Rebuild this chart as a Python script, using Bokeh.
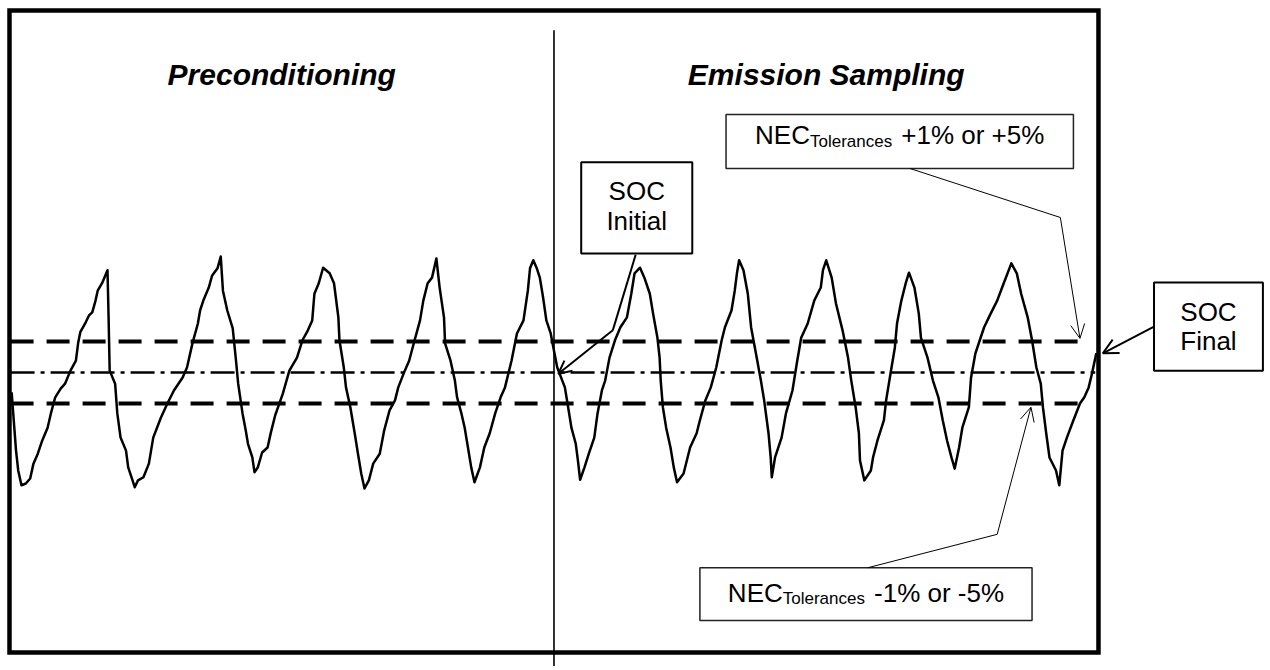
from bokeh.plotting import figure
from bokeh.models import Range1d, Arrow, OpenHead
from bokeh.core.properties import value
from bokeh.embed import file_html
from bokeh.resources import INLINE

# ---------------- data (time in % of test, SOC in %) ----------------
time_pre = [0.2, 0.3, 0.6, 0.8, 1.1, 1.5, 1.9, 2.2, 2.6, 3.0, 3.5, 3.8, 4.2, 4.7, 5.1, 5.6, 6.1, 6.3, 6.5, 7.0, 7.3, 7.6, 7.9, 8.1, 8.5, 9.0,
            9.1, 9.2, 9.7, 9.9, 10.2, 10.7, 10.9, 11.3, 11.5,
            11.8, 12.3, 12.8, 13.2, 13.9, 14.5, 15.1, 15.9, 16.3, 16.8, 17.3, 17.5, 17.8, 18.3, 18.6, 19.1, 19.4,
            19.6, 20.0, 20.5, 20.8, 21.0, 21.4, 21.7, 21.9, 22.3, 22.5,
            22.8, 23.2, 23.7, 24.0, 24.4, 25.1, 25.7, 26.4, 26.9, 27.4, 27.8, 28.0, 28.4, 28.8,
            29.4, 29.8, 30.2, 30.3, 30.7, 30.9, 31.3, 31.7, 32.0, 32.3, 32.6,
            33.0, 33.4, 34.0, 34.4, 34.9, 35.4, 35.7, 36.3, 36.7, 37.2, 37.7, 38.0, 38.4, 38.8, 39.2,
            39.5, 39.9, 40.0, 40.5, 40.9, 41.1, 41.5, 41.8, 42.1, 42.4, 42.7,
            43.2, 43.6, 44.1, 44.6, 45.1, 45.5, 46.1, 46.6, 47.2, 47.6, 47.8, 48.1,
            48.4, 48.7, 49.0, 49.3, 49.7, 50.0]
soc_pre = [46.8, 44.4, 37.4, 34.2, 31.8, 32.1, 32.9, 35.3, 36.9, 39.0, 41.1, 43.4, 46.0, 47.4, 48.2, 50.3, 51.9, 54.7, 56.5, 58.1, 59.2, 59.7, 61.6, 63.2, 64.4, 66.5,
           58.9, 50.3, 48.2, 43.4, 39.5, 37.4, 34.7, 32.6, 31.5,
           32.6, 33.1, 35.3, 39.5, 42.7, 45.0, 47.1, 49.2, 50.8, 54.7, 57.9, 60.0, 61.6, 63.7, 65.6, 66.8, 68.7,
           63.2, 60.0, 57.1, 51.9, 48.2, 43.4, 40.6, 38.5, 36.3, 33.9,
           34.7, 37.1, 37.9, 40.3, 43.1, 46.6, 50.3, 52.4, 55.2, 56.8, 58.4, 62.7, 64.4, 66.9,
           66.0, 64.4, 58.9, 55.2, 50.8, 47.6, 44.4, 40.2, 36.9, 33.7, 31.3,
           32.6, 35.3, 36.9, 40.6, 43.9, 45.5, 47.6, 50.3, 51.9, 55.2, 58.4, 61.6, 64.4, 65.3, 68.4,
           63.7, 58.9, 54.7, 51.9, 48.7, 46.0, 43.4, 41.1, 37.9, 34.7, 32.3,
           34.7, 37.9, 40.2, 43.4, 46.0, 47.6, 51.9, 56.3, 58.4, 63.2, 66.8, 68.1,
           66.9, 65.3, 62.1, 58.4, 56.3, 53.5]

time_em = [50.3, 51.0, 51.3, 51.6, 52.0, 52.2, 52.4,
           52.8, 53.2, 53.7, 54.0, 54.4, 54.7, 55.1, 55.6, 56.1, 56.7, 57.1, 57.4, 57.9,
           58.3, 58.8, 59.1, 59.5, 59.7, 59.8, 60.0, 60.3, 60.7, 61.0, 61.3,
           61.9, 62.2, 62.5, 63.1, 63.4, 63.9, 64.4, 64.9, 65.4, 65.7, 66.3, 66.6, 66.8, 67.0,
           67.4, 67.8, 68.1, 68.5, 69.0, 69.3, 69.7, 69.9, 70.0,
           70.3, 70.9, 71.3, 71.9, 72.3, 72.7, 73.3, 73.9, 74.5, 74.7, 75.0,
           75.5, 75.9, 76.5, 77.0, 77.3, 77.7, 78.0, 78.1, 78.5,
           79.1, 79.3, 79.7, 80.3, 80.5, 80.9, 81.3, 81.5, 81.9, 82.3, 82.6,
           83.1, 83.5, 83.7, 84.3, 84.8, 85.3, 85.7, 86.1, 86.5, 86.8,
           87.2, 87.5, 88.1, 88.3, 88.7, 89.1, 89.5, 90.1, 90.7, 91.3, 92.0,
           92.5, 92.9, 93.5, 93.9, 94.3, 94.7, 94.9, 95.2, 95.5, 96.1, 96.4,
           96.7, 97.1, 97.7, 98.3, 98.7, 99.1, 99.4, 99.8]
soc_em = [50.8, 47.6, 44.4, 41.1, 38.5, 35.8, 32.7,
          34.7, 36.9, 39.5, 43.4, 47.1, 48.7, 52.4, 55.2, 57.3, 58.9, 62.7, 66.0, 66.9,
          65.3, 62.7, 59.5, 55.6, 52.4, 48.7, 44.4, 41.1, 37.9, 34.7, 32.3,
          33.7, 35.8, 37.9, 40.2, 42.3, 45.5, 47.6, 50.8, 55.2, 57.3, 60.0, 63.2, 66.0, 68.1,
          66.5, 62.7, 57.3, 53.5, 48.7, 45.5, 40.2, 36.3, 33.1,
          36.3, 39.5, 43.4, 47.1, 51.5, 55.6, 57.9, 61.6, 63.7, 66.5, 68.1,
          65.3, 61.1, 56.8, 52.4, 48.7, 44.4, 40.2, 35.8, 32.6,
          34.2, 36.3, 39.0, 42.3, 45.5, 49.8, 54.0, 57.9, 61.6, 64.4, 66.1,
          63.7, 59.5, 55.6, 52.4, 48.7, 46.0, 42.3, 39.0, 36.3, 34.5,
          37.9, 41.1, 44.4, 49.2, 53.1, 55.2, 57.3, 59.5, 61.6, 64.4, 67.6,
          66.0, 62.7, 58.9, 55.2, 50.8, 48.2, 44.4, 40.2, 36.3, 34.2, 31.8,
          37.4, 39.5, 42.3, 45.0, 46.0, 47.6, 49.8, 53.1]

phase_names = ["Preconditioning", "Emission Sampling"]
phase_mid = [25, 75]
phase_split = 50
test_start, test_end = 0, 100
soc_target = 50
soc_tol = 5

soc_box_text = [["SOC", "Initial"], ["SOC", "Final"]]
nec_main = "NEC"
nec_sub = "Tolerances"
nec_tail = ["+1% or +5%", "-1% or -5%"]

# ---------------- layout / styling ----------------
FONT = "Liberation Sans"
W, H = 1266, 666
X0, X1 = -0.826, 115.43
Y0, Y1 = 2.58, 110.0
FRAME_BOTTOM, FRAME_TOP = 4.84, 108.39
DIV_TOP = 105.2
LINE_END_DASH, LINE_END_CENTER = 99.1, 99.7
FS_BOX, FS_SUB, FS_TITLE = 26, 17, 30

ARIAL = {"N": 722, "E": 667, "C": 722, "T": 611, "o": 556, "l": 222, "e": 556, "r": 333,
         "a": 556, "n": 556, "c": 500, "s": 500, " ": 278, "+": 584, "-": 333, "1": 556,
         "5": 556, "%": 889}


def tw(s, size):
    return sum(ARIAL[ch] for ch in s) / 1000.0 * size


p = figure(width=W, height=H, x_range=Range1d(X0, X1), y_range=Range1d(Y0, Y1),
           output_backend="svg", toolbar_location=None, min_border=0,
           x_axis_location=None, y_axis_location=None)
p.xgrid.visible = False
p.ygrid.visible = False
p.outline_line_color = None
p.background_fill_color = "white"
p.border_fill_color = "white"

# outer frame
p.quad(left=[test_start], right=[test_end], bottom=[FRAME_BOTTOM], top=[FRAME_TOP],
       fill_color=None, line_color="black", line_width=4.5, line_join="miter")
# phase divider
p.segment(x0=[phase_split], y0=[DIV_TOP], x1=[phase_split], y1=[Y0],
          line_color="black", line_width=1.6)

# tolerance band and target
p.segment(x0=[test_start + 0.1] * 2, y0=[soc_target + soc_tol, soc_target - soc_tol],
          x1=[LINE_END_DASH] * 2, y1=[soc_target + soc_tol, soc_target - soc_tol],
          line_color="black", line_width=4, line_dash="23 13")
p.segment(x0=[test_start + 0.1], y0=[soc_target], x1=[LINE_END_CENTER], y1=[soc_target],
          line_color="black", line_width=2.6, line_dash="24 6 4 6")

# SOC trace
p.line(time_pre + time_em, soc_pre + soc_em, line_color="black", line_width=2.5,
       line_join="round")

# titles
p.text(x=phase_mid, y=[98.1, 98.1], text=phase_names, text_font=value(FONT),
       text_font_style="bold italic", text_font_size=f"{FS_TITLE}px",
       text_align="center", text_baseline="alphabetic", text_color="black")

# SOC boxes
soc_box_l = [52.5, 105.1]
soc_box_r = [62.7, 115.1]
soc_box_b = [69.2, 50.3]
soc_box_t = [83.9, 64.5]
p.quad(left=soc_box_l, right=soc_box_r, bottom=soc_box_b, top=soc_box_t,
       fill_color="white", line_color="black", line_width=2)
soc_line_y = [[79.3, 74.4], [59.7, 55.0]]
for i in range(2):
    cx = (soc_box_l[i] + soc_box_r[i]) / 2
    p.text(x=[cx, cx], y=soc_line_y[i], text=soc_box_text[i], text_font=value(FONT),
           text_font_size=f"{FS_BOX}px", text_align="center",
           text_baseline="alphabetic", text_color="black")

# NEC boxes
nec_box_l = [65.8, 63.4]
nec_box_r = [97.7, 93.9]
nec_box_b = [82.9, 10.0]
nec_box_t = [91.6, 18.5]
nec_base_y = [88.25, 14.5]
nec_sub_y = [87.25, 13.6]
p.quad(left=nec_box_l, right=nec_box_r, bottom=nec_box_b, top=nec_box_t,
       fill_color="white", line_color="#222222", line_width=1.5)
for i in range(2):
    cx = (nec_box_l[i] + nec_box_r[i]) / 2
    w_main = tw(nec_main, FS_BOX)
    w_sub = tw(nec_sub, FS_SUB)
    w_gap = tw(" ", FS_BOX)
    w_tail = tw(nec_tail[i], FS_BOX)
    start = -(w_main + w_sub + w_gap + w_tail) / 2
    p.text(x=[cx], y=[nec_base_y[i]], text=[nec_main], x_offset=start,
           text_font=value(FONT), text_font_size=f"{FS_BOX}px", text_align="left",
           text_baseline="alphabetic", text_color="black")
    p.text(x=[cx], y=[nec_sub_y[i]], text=[nec_sub], x_offset=start + w_main,
           text_font=value(FONT), text_font_size=f"{FS_SUB}px", text_align="left",
           text_baseline="alphabetic", text_color="black")
    p.text(x=[cx], y=[nec_base_y[i]], text=[nec_tail[i]],
           x_offset=start + w_main + w_sub + w_gap,
           text_font=value(FONT), text_font_size=f"{FS_BOX}px", text_align="left",
           text_baseline="alphabetic", text_color="black")

# leaders / arrows
# SOC initial (bent)
p.line([57.5, 55.4], [69.0, 56.8], line_color="black", line_width=2)
p.add_layout(Arrow(end=OpenHead(size=13, line_width=2, line_color="black"),
                   x_start=55.4, y_start=56.8, x_end=50.4, y_end=49.8,
                   line_color="black", line_width=2))
# SOC final
p.add_layout(Arrow(end=OpenHead(size=15, line_width=2, line_color="black"),
                   x_start=105.1, y_start=57.4, x_end=100.4, y_end=53.1,
                   line_color="black", line_width=2))
# NEC +
p.line([82.7, 96.5], [82.9, 75.0], line_color="black", line_width=1)
p.add_layout(Arrow(end=OpenHead(size=14, line_width=1, line_color="black"),
                   x_start=96.5, y_start=75.0, x_end=98.3, y_end=55.5,
                   line_color="black", line_width=1))
# NEC -
p.line([78.8, 90.7], [18.5, 23.9], line_color="black", line_width=1)
p.add_layout(Arrow(end=OpenHead(size=14, line_width=1, line_color="black"),
                   x_start=90.7, y_start=23.9, x_end=93.8, y_end=44.4,
                   line_color="black", line_width=1))

open("out.html", "w").write(file_html(p, INLINE))
